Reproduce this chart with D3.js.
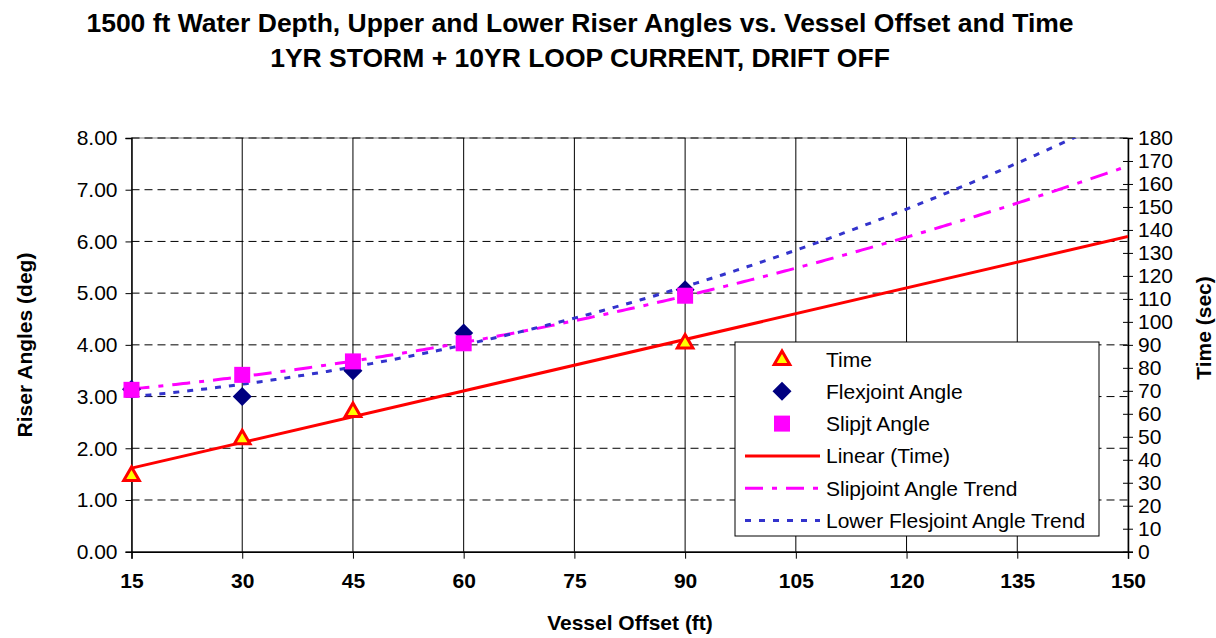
<!DOCTYPE html>
<html>
<head>
<meta charset="utf-8">
<script src="https://cdn.jsdelivr.net/npm/d3@7/dist/d3.min.js"></script>
<style>
  body { margin: 0; background: #fff; }
  svg { display: block; font-family: "Liberation Sans", Arial, sans-serif; }
</style>
</head>
<body>
<svg id="chart" width="1216" height="638"></svg>
<script>
// Vessel offsets (ft) where the riser was analysed
const offsets = [15, 30, 45, 60, 90];
// Time to reach each offset (sec), right axis
const timeSec = [33.4, 49.4, 61.2, 91.0];
const timeOffsets = [15, 30, 45, 90];
// Lower flexjoint angle (deg)
const flexAngle = [3.14, 3.00, 3.50, 4.23, 5.065];
// Slipjoint angle (deg)
const slipAngle = [3.13, 3.42, 3.68, 4.03, 4.95];

const xTicks = [15, 30, 45, 60, 75, 90, 105, 120, 135, 150];
const yLeftTicks = [0, 1, 2, 3, 4, 5, 6, 7, 8];
const yRightTicks = d3.range(0, 181, 10);

const titleLines = [
  "1500 ft Water Depth, Upper and Lower Riser Angles vs. Vessel Offset and Time",
  "1YR STORM + 10YR LOOP CURRENT, DRIFT OFF"
];
const legendItems = [
  { label: "Time", kind: "tri" },
  { label: "Flexjoint Angle", kind: "dia" },
  { label: "Slipjt Angle", kind: "sq" },
  { label: "Linear (Time)", kind: "lin" },
  { label: "Slipjoint Angle Trend", kind: "slipTrend" },
  { label: "Lower Flesjoint Angle Trend", kind: "flexTrend" }
];

const C = {
  red: "#ff0000", yellow: "#ffff00", navy: "#000080",
  magenta: "#ff00ff", blue: "#3333cc"
};
const FS = 21;

const svg = d3.select("#chart");
const plot = { left: 131.5, right: 1128, top: 138, bottom: 551.7 };

const x = d3.scaleLinear().domain([15, 150]).range([plot.left, plot.right]);
const yL = d3.scaleLinear().domain([0, 8]).range([plot.bottom, plot.top]);
const yR = d3.scaleLinear().domain([0, 180]).range([plot.bottom, plot.top]);

// Least-squares polynomial fit (degree 1 or 2)
function polyFit(xs, ys, deg) {
  const n = deg + 1;
  const A = Array.from({ length: n }, () => new Array(n + 1).fill(0));
  xs.forEach((xv, k) => {
    for (let i = 0; i < n; i++) {
      for (let j = 0; j < n; j++) A[i][j] += Math.pow(xv, i + j);
      A[i][n] += ys[k] * Math.pow(xv, i);
    }
  });
  for (let i = 0; i < n; i++) {
    let p = i;
    for (let r = i + 1; r < n; r++) if (Math.abs(A[r][i]) > Math.abs(A[p][i])) p = r;
    [A[i], A[p]] = [A[p], A[i]];
    for (let r = 0; r < n; r++) {
      if (r === i) continue;
      const f = A[r][i] / A[i][i];
      for (let c = i; c <= n; c++) A[r][c] -= f * A[i][c];
    }
  }
  const coef = A.map((row, i) => row[n] / row[i]);
  return xv => coef.reduce((s, c, i) => s + c * Math.pow(xv, i), 0);
}

const timeFit = polyFit(timeOffsets, timeSec, 1);
const slipFit = polyFit(offsets, slipAngle, 2);
const flexFit = polyFit(offsets, flexAngle, 2);

// Title
svg.append("g").selectAll("text").data(titleLines).join("text")
  .attr("x", 580).attr("y", (d, i) => 31.5 + i * 35)
  .attr("text-anchor", "middle")
  .attr("font-size", 26.5).attr("font-weight", "bold")
  .text(d => d);

// Plot frame
svg.append("rect")
  .attr("x", plot.left).attr("y", plot.top)
  .attr("width", plot.right - plot.left).attr("height", plot.bottom - plot.top)
  .attr("fill", "#fff").attr("stroke", "#808080").attr("stroke-width", 1);

// Vertical gridlines (solid)
svg.append("g").selectAll("line").data(xTicks.slice(1, -1)).join("line")
  .attr("x1", d => x(d)).attr("x2", d => x(d))
  .attr("y1", plot.top).attr("y2", plot.bottom)
  .attr("stroke", "#000").attr("stroke-width", 1);

// Horizontal gridlines (dashed)
svg.append("g").selectAll("line").data(yLeftTicks.slice(1)).join("line")
  .attr("x1", plot.left).attr("x2", plot.right)
  .attr("y1", d => yL(d)).attr("y2", d => yL(d))
  .attr("stroke", "#000").attr("stroke-width", 1)
  .attr("stroke-dasharray", "8,5");

// Axes
const axisStyle = g => {
  g.select(".domain").attr("stroke", "#000").attr("stroke-width", 1.5);
  g.selectAll(".tick line").attr("stroke", "#000").attr("stroke-width", 1);
  g.selectAll(".tick text").attr("fill", "#000")
    .attr("font-family", "'Liberation Sans', Arial, sans-serif");
};

svg.append("g")
  .attr("transform", `translate(0,${plot.bottom})`)
  .call(d3.axisBottom(x).tickValues(xTicks).tickSize(7).tickPadding(14).tickFormat(d3.format("d")))
  .call(axisStyle)
  .call(g => g.selectAll(".tick text").attr("font-size", FS).attr("font-weight", "bold"));

svg.append("g")
  .attr("transform", `translate(${plot.left},0)`)
  .call(d3.axisLeft(yL).tickValues(yLeftTicks).tickSize(6).tickPadding(8).tickFormat(d3.format(".2f")))
  .call(axisStyle)
  .call(g => g.selectAll(".tick text").attr("font-size", FS));

const rightAxis = svg.append("g")
  .attr("transform", `translate(${plot.right},0)`)
  .call(d3.axisRight(yR).tickValues(yRightTicks).tickSize(5).tickPadding(5))
  .call(axisStyle)
  .call(g => g.selectAll(".tick text").attr("font-size", FS));
rightAxis.selectAll(".tick line").attr("x1", -5);

// Axis titles
svg.append("text").attr("x", 630).attr("y", 630)
  .attr("text-anchor", "middle").attr("font-size", FS).attr("font-weight", "bold")
  .text("Vessel Offset (ft)");
svg.append("text").attr("transform", "translate(32,345) rotate(-90)")
  .attr("text-anchor", "middle").attr("font-size", FS).attr("font-weight", "bold")
  .text("Riser Angles (deg)");
svg.append("text").attr("transform", "translate(1211,328) rotate(-90)")
  .attr("text-anchor", "middle").attr("font-size", FS).attr("font-weight", "bold")
  .text("Time (sec)");

// Clip region for trend curves
svg.append("defs").append("clipPath").attr("id", "plotClip")
  .append("rect").attr("x", plot.left).attr("y", plot.top)
  .attr("width", plot.right - plot.left).attr("height", plot.bottom - plot.top);

const xs = d3.range(15, 150.01, 0.5);
const layer = svg.append("g").attr("clip-path", "url(#plotClip)");

layer.append("path")
  .attr("d", d3.line().x(d => x(d)).y(d => yR(timeFit(d)))([15, 150]))
  .attr("fill", "none").attr("stroke", C.red).attr("stroke-width", 3);

layer.append("path")
  .attr("d", d3.line().x(d => x(d)).y(d => yL(slipFit(d)))(xs))
  .attr("fill", "none").attr("stroke", C.magenta).attr("stroke-width", 3)
  .attr("stroke-dasharray", "18,9,5,9");

layer.append("path")
  .attr("d", d3.line().x(d => x(d)).y(d => yL(flexFit(d)))(xs))
  .attr("fill", "none").attr("stroke", C.blue).attr("stroke-width", 3)
  .attr("stroke-dasharray", "6,8");

// Marker symbols
const triPath = d3.symbol().type(d3.symbolTriangle).size(105)();
const diaPath = "M0,-9.5L9.5,0L0,9.5L-9.5,0Z";

function drawTri(g) {
  g.append("path").attr("d", triPath).attr("transform", "translate(0,1)")
    .attr("fill", C.yellow).attr("stroke", C.red).attr("stroke-width", 3)
    .attr("stroke-linejoin", "miter");
}
function drawDia(g) {
  g.append("path").attr("d", diaPath).attr("fill", C.navy);
}
function drawSq(g) {
  g.append("rect").attr("x", -8).attr("y", -8).attr("width", 16).attr("height", 16)
    .attr("fill", C.magenta);
}

const markers = svg.append("g");
offsets.forEach((o, i) => {
  drawDia(markers.append("g").attr("transform", `translate(${x(o)},${yL(flexAngle[i])})`));
});
offsets.forEach((o, i) => {
  drawSq(markers.append("g").attr("transform", `translate(${x(o)},${yL(slipAngle[i])})`));
});
timeOffsets.forEach((o, i) => {
  drawTri(markers.append("g").attr("transform", `translate(${x(o)},${yR(timeSec[i])})`));
});

// Legend
const lg = svg.append("g").attr("transform", "translate(735,342)");
lg.append("rect").attr("width", 364).attr("height", 194)
  .attr("fill", "#fff").attr("stroke", "#000").attr("stroke-width", 1);
legendItems.forEach((it, i) => {
  const cy = 17 + i * 32.3;
  const row = lg.append("g").attr("transform", `translate(0,${cy})`);
  const sym = row.append("g").attr("transform", "translate(47,0)");
  if (it.kind === "tri") drawTri(sym);
  if (it.kind === "dia") drawDia(sym);
  if (it.kind === "sq") drawSq(sym);
  const seg = (stroke, dash) => row.append("line")
    .attr("x1", 10).attr("x2", 85).attr("y1", 0).attr("y2", 0)
    .attr("stroke", stroke).attr("stroke-width", 3).attr("stroke-dasharray", dash);
  if (it.kind === "lin") seg(C.red, null);
  if (it.kind === "slipTrend") seg(C.magenta, "18,9,5,9");
  if (it.kind === "flexTrend") seg(C.blue, "6,8");
  row.append("text").attr("x", 91).attr("y", 7.5)
    .attr("font-size", FS).text(it.label);
});
</script>
</body>
</html>
